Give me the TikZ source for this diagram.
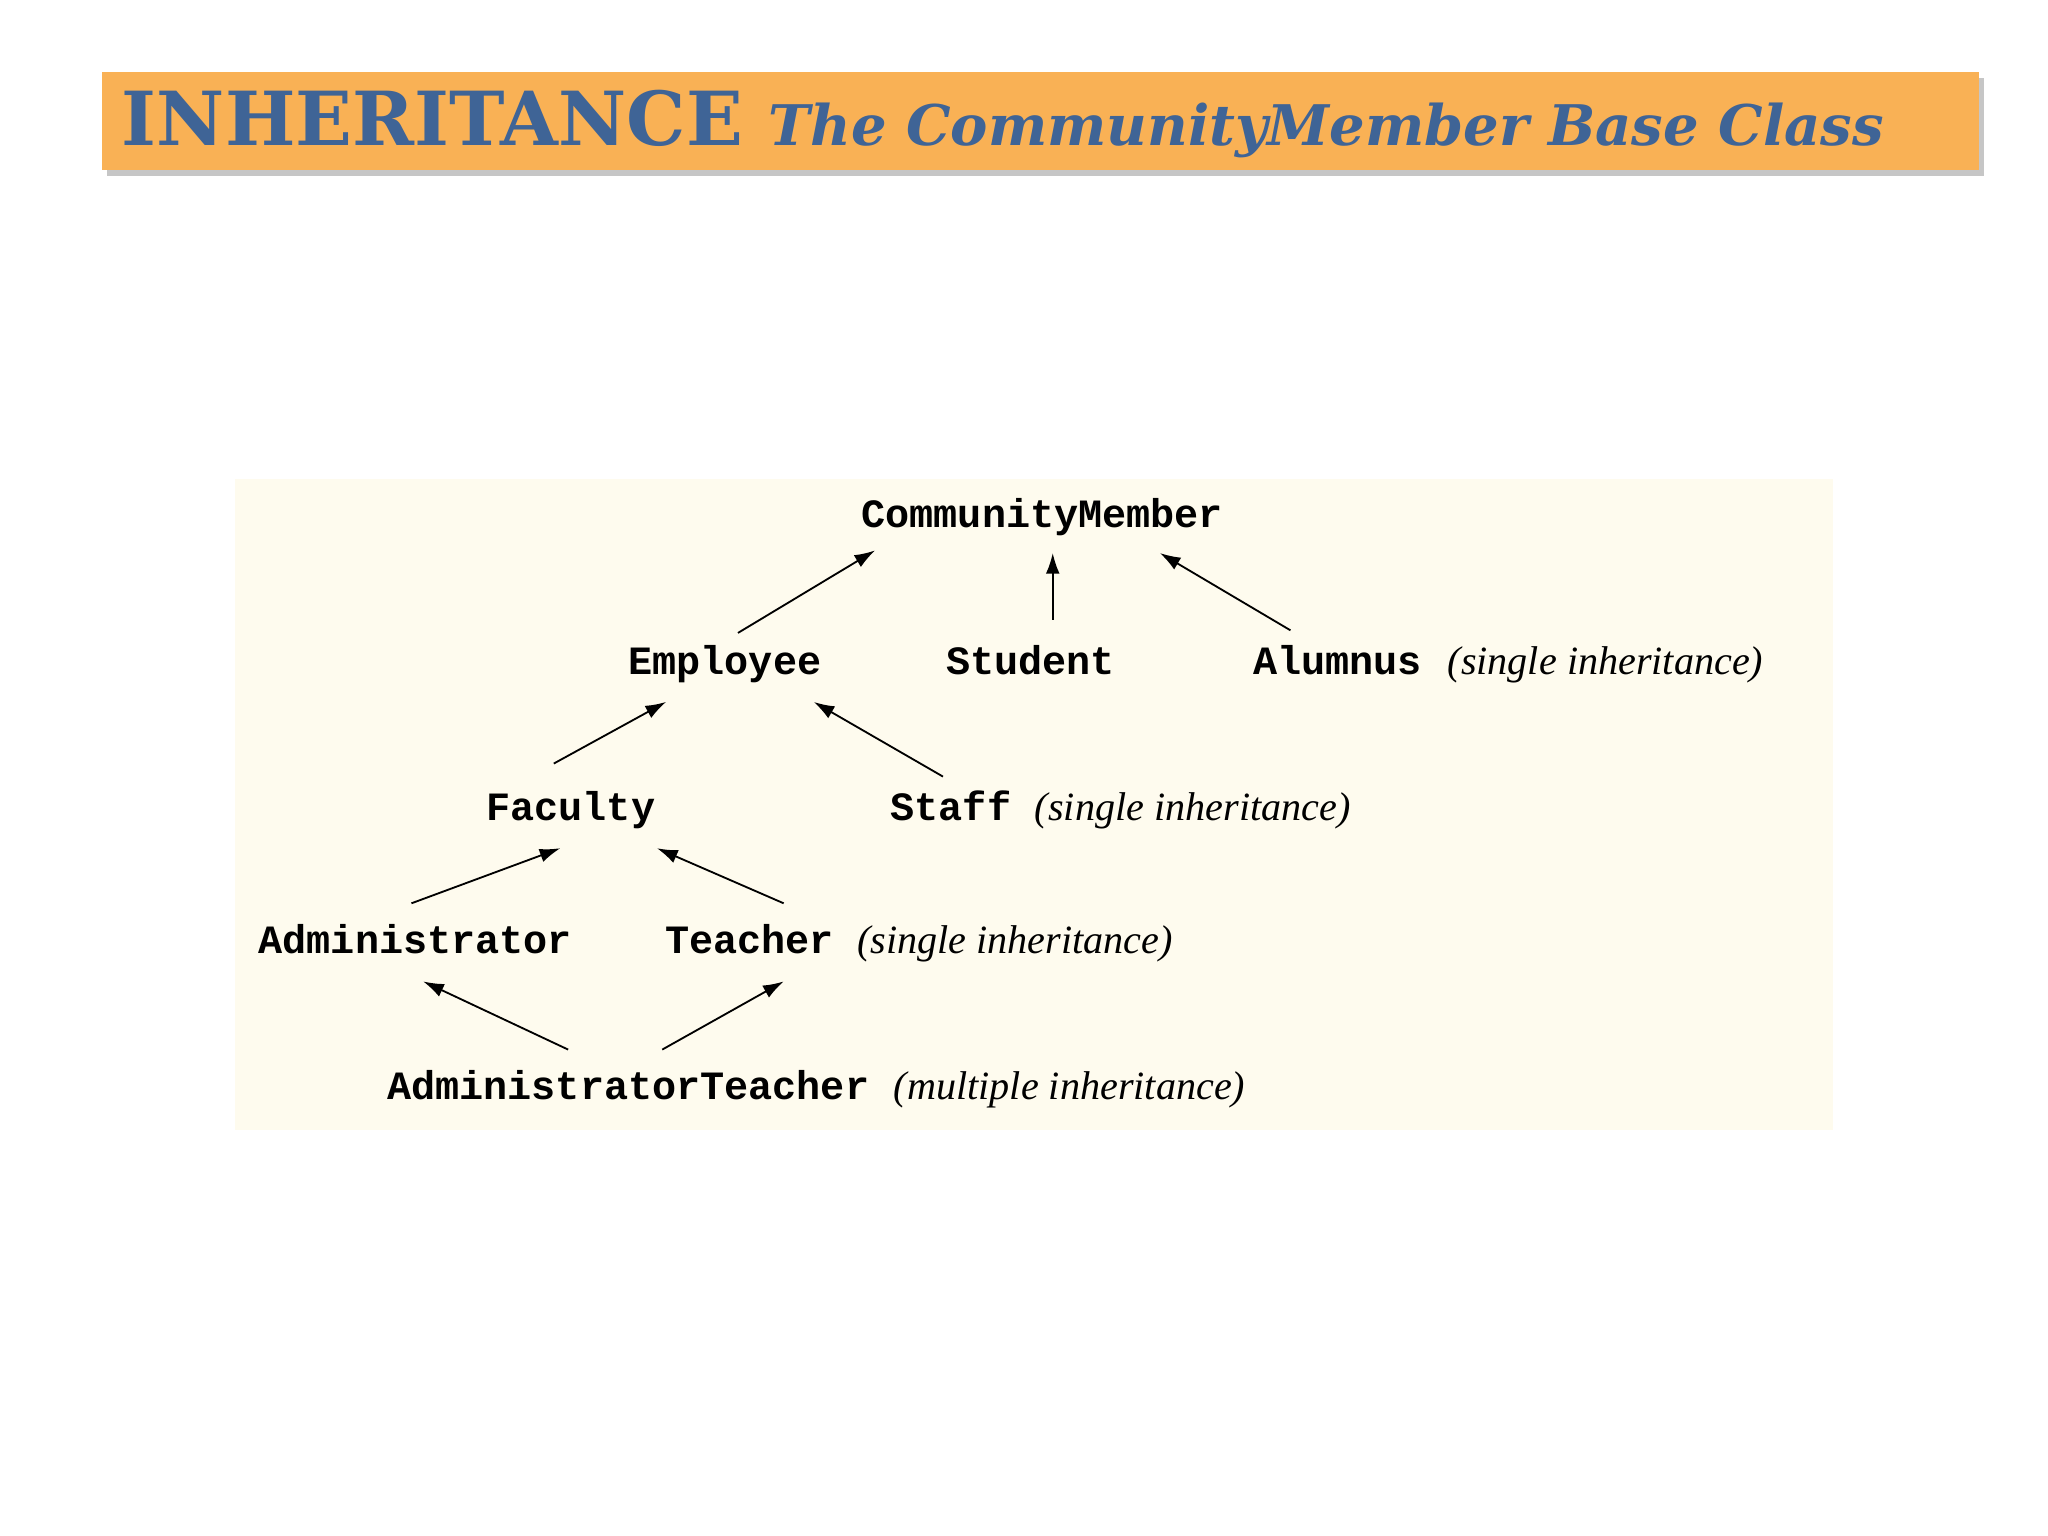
\documentclass[tikz,border=0pt]{standalone}
\usepackage{fontspec}
\setmainfont{Liberation Serif}
\setmonofont{Liberation Mono}
\newfontfamily\titlefont{DejaVu Serif}
\usetikzlibrary{arrows.meta}
\definecolor{banner}{HTML}{F9B155}
\definecolor{titleblue}{HTML}{3F6496}
\definecolor{cream}{HTML}{FEFBEE}
\tikzset{
  cls/.style={font=\ttfamily\bfseries\fontsize{17.5}{17.5}\selectfont, inner sep=0pt, text height=12pt, text depth=4pt, anchor=center},
  note/.style={font=\itshape\fontsize{17.5}{17.5}\selectfont, inner sep=0pt, text height=12pt, text depth=4pt, anchor=west},
  inh/.style={-{Latex[length=9pt,width=6pt]}, line width=0.8pt}
}
\begin{document}
\begin{tikzpicture}[x=0.02cm,y=-0.02cm]
\useasboundingbox (0,0) rectangle (1568,1176);
\fill[white] (0,0) rectangle (1568,1176);
% banner
\fill[gray!45] (82,60) rectangle (1519,135);
\fill[banner] (78,55) rectangle (1515,130);
\node[anchor=west, inner sep=0pt, text=titleblue] (title) at (93,95)
  {\titlefont\bfseries\fontsize{32.5}{32.5}\selectfont INHERITANCE\ \fontsize{24.4}{24.4}\selectfont\itshape The CommunityMember Base Class};
% diagram area
\fill[cream] (180,367) rectangle (1403,865);
\node[cls] (cm) at (798,397) {CommunityMember};
\node[cls] (emp) at (555,509) {Employee};
\node[cls] (stu) at (789,509) {Student};
\node[cls] (alu) at (1024,509) {Alumnus};
\node[note] (n1) at (1108,509) {(single inheritance)};
\node[cls] (fac) at (437,621) {Faculty};
\node[cls] (sta) at (728,621) {Staff};
\node[note] (n2) at (792,621) {(single inheritance)};
\node[cls] (adm) at (318,723) {Administrator};
\node[cls] (tea) at (574,723) {Teacher};
\node[note] (n3) at (656,723) {(single inheritance)};
\node[cls] (at) at (481,835) {AdministratorTeacher};
\node[note] (n4) at (684,835) {(multiple inheritance)};
% arrows
\draw[inh] ([shift={(10,-10)}]emp.north) -- ([shift={(-128,10)}]cm.south);
\draw[inh] ([shift={(17,-20)}]stu.north) -- ([shift={(8,12)}]cm.south);
\draw[inh] ([shift={(-36,-12)}]alu.north) -- ([shift={(90,12)}]cm.south);
\draw[inh] ([shift={(-13,-22)}]fac.north) -- ([shift={(-45,14)}]emp.south);
\draw[inh] ([shift={(-6,-12)}]sta.north) -- ([shift={(68,14)}]emp.south);
\draw[inh] ([shift={(-3,-17)}]adm.north) -- ([shift={(-8,14)}]fac.south);
\draw[inh] ([shift={(26,-17)}]tea.north) -- ([shift={(66,14)}]fac.south);
\draw[inh] ([shift={(-46,-17)}]at.north) -- ([shift={(6,14)}]adm.south);
\draw[inh] ([shift={(26,-17)}]at.north) -- ([shift={(26,14)}]tea.south);
\end{tikzpicture}
\end{document}
